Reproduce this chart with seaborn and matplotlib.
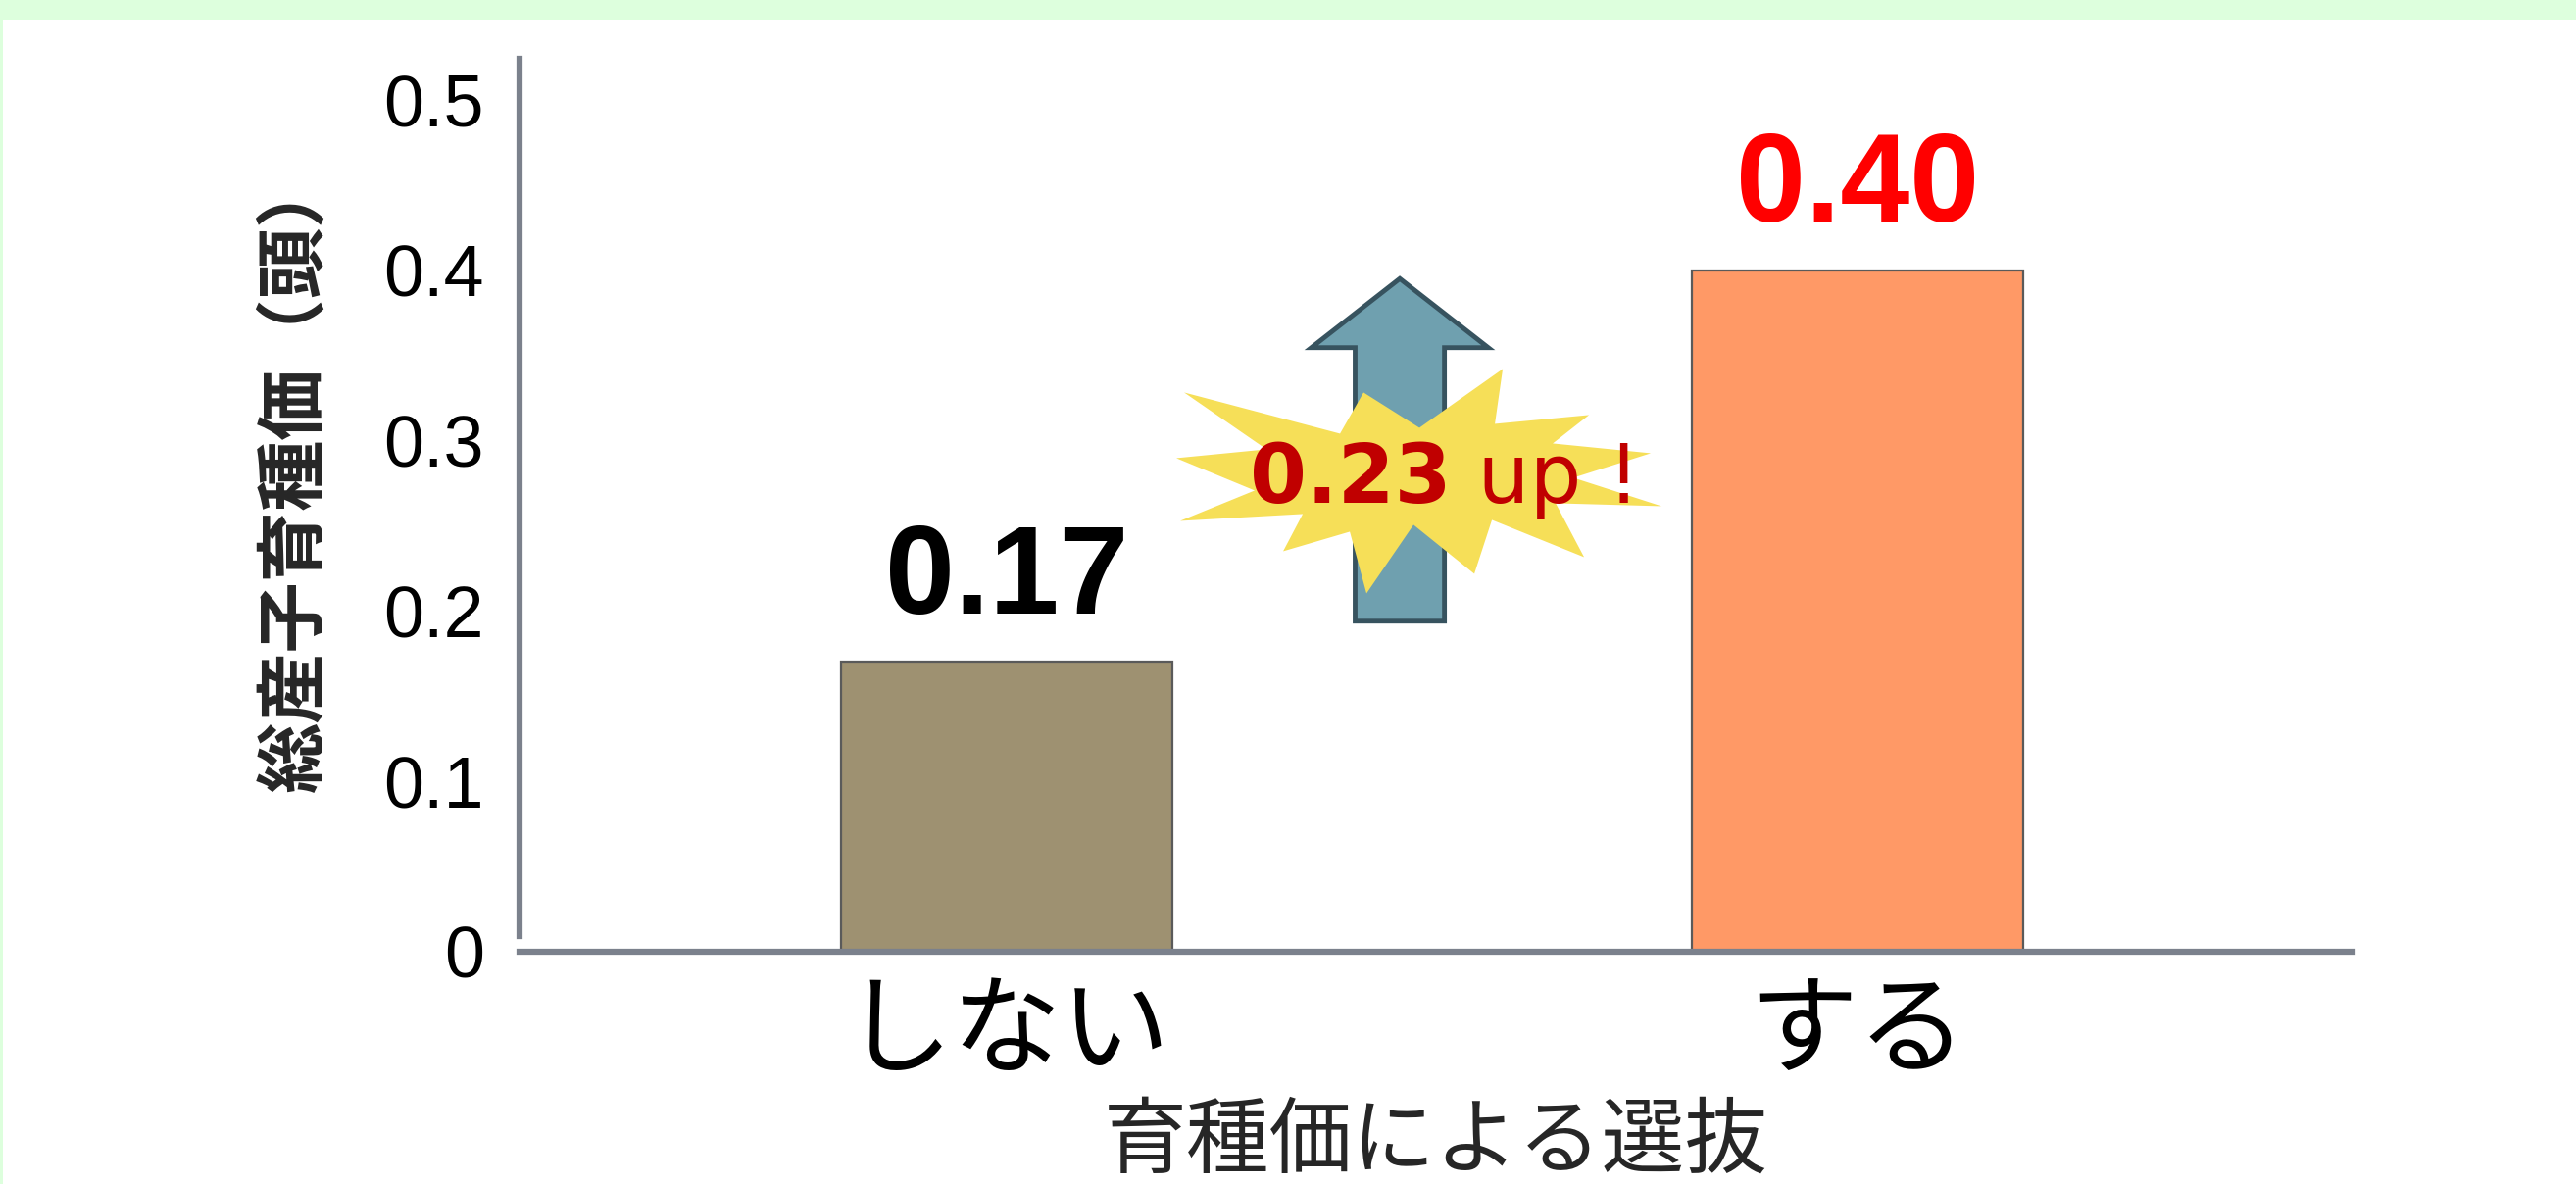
import numpy as np
import matplotlib
matplotlib.use('Agg')
import matplotlib.pyplot as plt
import matplotlib.transforms as mtransforms
from matplotlib.patches import FancyArrow, Polygon, Rectangle
import seaborn as sns

# データ
categories = ['しない', 'する']
values = [0.17, 0.40]
bar_colors = ['#9E9171', '#FF9966']
label_colors = ['#000000', '#FF0000']
yticks = [0, 0.1, 0.2, 0.3, 0.4, 0.5]
ytick_labels = ['0', '0.1', '0.2', '0.3', '0.4', '0.5']
x_title = '育種価による選抜'
y_title = '総産子育種価（頭）'

# 星形の吹き出し (中心からのオフセット, px)
star_dx = [-237, -78, -54, 3, 88, 80, 176, 139, 239, 160, 250, 142,
           171, 77, 59, -3, -51, -68, -136, -116, -241, -165, -245, -153]
star_dy = [89, 47, 89, 53, 113, 57, 66, 37, 27, 2, -27, -24,
           -79, -41, -96, -46, -116, -53, -73, -35, -42, -11, 22, 31]

sns.set_style('white')
plt.rcParams['font.family'] = ['Liberation Sans', 'Noto Sans CJK JP']
jp = 'Noto Sans CJK JP'

fig = plt.figure(figsize=(26.28, 12.08), dpi=100, facecolor='#DDFFDD')
fig.patches.append(Rectangle((3 / 2628, 0), 1, 1188 / 1208, transform=fig.transFigure,
                             facecolor='white', edgecolor='none', zorder=-1))
ax = fig.add_axes([0.2017, 0.1962, 0.7116, 0.7541])
ax.set_facecolor('white')

sns.barplot(x=categories, y=values, hue=categories, palette=bar_colors, width=0.39,
            edgecolor='#5A5A5A', linewidth=1.6, saturation=1, legend=False, ax=ax)

for cont, col in zip(ax.containers, label_colors):
    ax.bar_label(cont, fmt='%.2f', color=col, fontsize=92, fontweight='bold', padding=16)

ax.set_xlim(-0.5726, 1.582)
ax.set_ylim(0, 0.524)

# 軸
sns.despine(ax=ax, top=True, right=True)
for s in ['left', 'bottom']:
    ax.spines[s].set_color('#7B818C')
    ax.spines[s].set_linewidth(4.5)
ax.spines['left'].set_bounds(0.009, 0.524)

ax.set_yticks(yticks, ytick_labels)
ax.tick_params(axis='y', length=0, pad=26, labelsize=53, labelcolor='black')
ax.tick_params(axis='x', length=0, pad=19, labelsize=80, labelcolor='black')
for lbl in ax.get_xticklabels():
    lbl.set_fontfamily(jp)

ax.set_ylabel(y_title, fontsize=52, fontweight='bold', family=jp)
ax.yaxis.set_label_coords(-0.1025, 0.536)
ax.set_xlabel(x_title, fontsize=61, family=jp)
ax.xaxis.set_label_coords(0.5, -0.166)

# 上向き矢印
diff = values[1] - values[0]
arrow_x = 0.462
base = values[0] + 0.024
tip = values[1] - 0.005
ax.add_patch(FancyArrow(arrow_x, base, 0, tip - base, width=0.105, head_width=0.208,
                        head_length=0.0405, length_includes_head=True,
                        facecolor='#6FA0AF', edgecolor='#37535F', linewidth=3.5, zorder=3))

# 星形
cx, cy = 0.4816, (values[0] + values[1]) / 2 - 0.008
star_tr = (mtransforms.Affine2D().scale(1 / 100) + fig.dpi_scale_trans
           + mtransforms.ScaledTranslation(cx, cy, ax.transData))
ax.add_patch(Polygon(np.column_stack([star_dx, star_dy]), closed=True, transform=star_tr,
                     facecolor='#F6DF58', edgecolor='none', zorder=4))

tx, ty = 0.523, 0.2636
ax.text(tx, ty, f'{diff:.2f}', ha='right', va='baseline', fontsize=60, family='DejaVu Sans',
        fontweight='bold', color='#C00000', zorder=5)
ax.text(tx, ty, ' up !', ha='left', va='baseline', fontsize=60, family='DejaVu Sans',
        color='#C00000', zorder=5)

fig.savefig('out.png', dpi=100, facecolor=fig.get_facecolor())
